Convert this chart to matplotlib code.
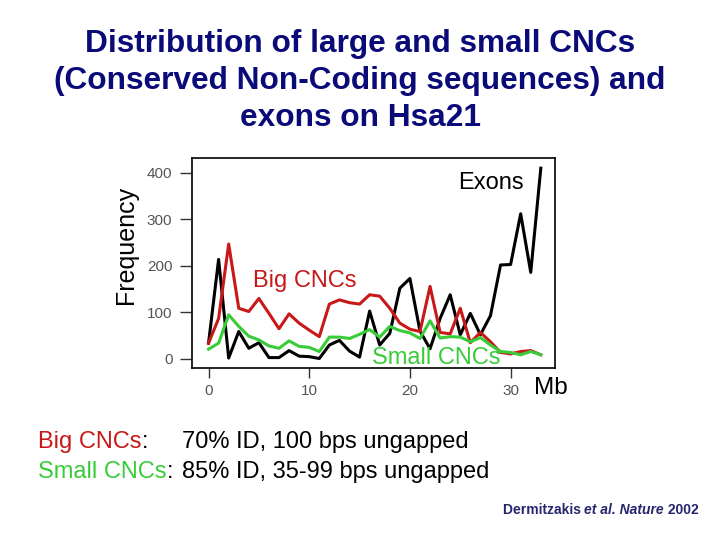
import matplotlib
matplotlib.use("Agg")
import matplotlib.pyplot as plt

plt.rcParams['font.family'] = ['Liberation Sans', 'DejaVu Sans']

# positions along chromosome 21, Mb
mb = list(range(34))

exons = [34, 214, 2, 59, 23, 35, 3, 3, 18, 6, 5, 1, 30, 40, 17, 4, 103, 30,
         55, 152, 173, 60, 22, 87, 138, 52, 98, 52, 93, 202, 203, 312, 186, 410]
big_cncs = [34, 87, 247, 109, 102, 130, 98, 65, 97, 77, 62, 48, 118, 127, 121,
            118, 138, 135, 109, 77, 64, 59, 156, 57, 54, 109, 35, 57, 37, 14,
            11, 16, 18, 9]
small_cncs = [21, 34, 95, 70, 49, 41, 28, 23, 39, 27, 25, 16, 47, 47, 44, 53,
              63, 47, 70, 61, 56, 44, 82, 45, 48, 47, 37, 46, 30, 16, 14, 9,
              16, 9]

yticks = [0, 100, 200, 300, 400]
xticks = [0, 10, 20, 30]

red = '#c81818'
green = '#38cc38'
navy = '#0a0a78'

fig = plt.figure(figsize=(7.2, 5.4), dpi=100)

fig.text(0.5, 0.85, "Distribution of large and small CNCs\n"
         "(Conserved Non-Coding sequences) and\nexons on Hsa21",
         ha='center', va='center', fontsize=22.8, fontweight='bold',
         color=navy, linespacing=1.3)

ax = fig.add_axes([0.2667, 0.3185, 0.504, 0.389])
ax.plot(mb, exons, color='black', lw=2.2)
ax.plot(mb, big_cncs, color=red, lw=2.2)
ax.plot(mb, small_cncs, color=green, lw=2.2)

ax.set_xlim(-1.64, 34.4)
ax.set_ylim(-19.4, 432)
ax.set_xticks(xticks)
ax.set_yticks(yticks)
ax.tick_params(axis='y', length=8.6, pad=5.5)
ax.tick_params(axis='x', length=7, pad=4.5)
ax.tick_params(width=1, color='#333333', labelcolor='#555555', labelsize=11)
for s in ax.spines.values():
    s.set_linewidth(1.2)

ax.text(0.915, 0.88, "Exons", transform=ax.transAxes, ha='right',
        va='center', fontsize=17)
ax.text(9.6, 168, "Big CNCs", color=red, ha='center', va='center',
        fontsize=17)
ax.text(22.6, 2, "Small CNCs", color=green, ha='center', va='center',
        fontsize=17)

fig.text(0.175, 0.546, "Frequency", rotation=90, ha='center', va='center',
         fontsize=18)
fig.text(0.765, 0.2815, "Mb", ha='center', va='center', fontsize=17.5)


def after(prev, s, **kw):
    # place a piece of text right after the previous one, same line
    return ax.annotate(s, xy=(1, 0), xycoords=prev, ha='left', va='bottom',
                       annotation_clip=False, **kw)


# footnote lines
y1, y2 = 0.181, 0.126
t = fig.text(0.053, y1, "Big CNCs", color=red, fontsize=17, va='center')
after(t, ":", fontsize=17)
fig.text(0.253, y1, "70% ID, 100 bps ungapped", fontsize=17, va='center')
t = fig.text(0.053, y2, "Small CNCs", color=green, fontsize=17, va='center')
after(t, ":", fontsize=17)
fig.text(0.253, y2, "85% ID, 35-99 bps ungapped", fontsize=17, va='center')

cite = '#26266e'
t = fig.text(0.698, 0.056, "Dermitzakis ", fontsize=10, fontweight='bold',
             color=cite, va='center')
t = after(t, "et al. Nature", fontsize=10, fontweight='bold',
          style='italic', color=cite)
after(t, " 2002", fontsize=10, fontweight='bold', color=cite)

fig.savefig("out.png", dpi=100)
